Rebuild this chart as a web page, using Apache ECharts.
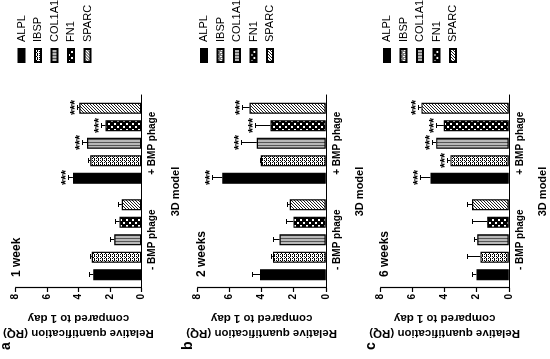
<!DOCTYPE html>
<html>
<head>
<meta charset="utf-8">
<script src="https://cdn.jsdelivr.net/npm/echarts/dist/echarts.min.js"></script>
<style>
html,body{margin:0;padding:0;background:#fff;overflow:hidden;width:550px;height:359px;}
#rot{position:absolute;left:0;top:0;width:359px;height:550px;transform-origin:0 0;transform:translate(0,359px) rotate(-90deg);background:#fff;}
#chart{width:359px;height:550px;}
</style>
</head>
<body>
<div id="rot"><div id="chart"></div></div>
<script>
// ---------- data ----------
const genes = ['ALPL', 'IBSP', 'COL1A1', 'FN1', 'SPARC'];
const groups = ['- BMP phage', '+ BMP phage'];
const panelLetters = ['a', 'b', 'c'];
const panelTitles = ['1 week', '2 weeks', '6 weeks'];
const axisName = 'Relative quantification (RQ)\ncompared to 1 day';
const catAxisName = '3D model';
const valueMin = 0, valueMax = 8, valueStep = 2;

// 1 week
const week1Minus    = [3.05, 3.15, 1.72, 1.38, 1.24];
const week1MinusErr = [0.25, 0.10, 0.28, 0.28, 0.22];
const week1Plus     = [4.35, 3.25, 3.45, 2.27, 3.95];
const week1PlusErr  = [0.30, 0.12, 0.30, 0.30, 0.15];
const week1Stars    = ['***', '', '***', '***', '***'];
// 2 weeks
const week2Minus    = [4.10, 3.30, 2.88, 2.02, 2.25];
const week2MinusErr = [0.48, 0.10, 0.40, 0.45, 0.17];
const week2Plus     = [6.45, 4.05, 4.30, 3.45, 4.75];
const week2PlusErr  = [0.63, 0.08, 1.00, 0.95, 0.45];
const week2Stars    = ['***', '', '***', '***', '***'];
// 6 weeks
const week6Minus    = [2.02, 1.77, 1.97, 1.35, 2.29];
const week6MinusErr = [0.30, 0.83, 0.20, 0.93, 0.30];
const week6Plus     = [4.89, 3.64, 4.53, 4.05, 5.45];
const week6PlusErr  = [0.66, 0.20, 0.25, 0.48, 0.23];
const week6Stars    = ['***', '***', '***', '***', '***'];

const panels = [
  [week1Minus, week1MinusErr, week1Plus, week1PlusErr, week1Stars],
  [week2Minus, week2MinusErr, week2Plus, week2PlusErr, week2Stars],
  [week6Minus, week6MinusErr, week6Plus, week6PlusErr, week6Stars]
];

// ---------- style ----------
const FONT = '"Liberation Sans", Arial, Helvetica, sans-serif';
const BAR_W = 11, BAR_GAP = 6.5 / 11, BAR_PITCH = 17.5, CAP = 5, STAR_DY = 4;
const gridTops = [13, 197.5, 380.5];
const gridH = 128.3;
const panelOffsets = [0, 182.5, 365.5];

function makePattern(w, h, draw) {
  const c = document.createElement('canvas');
  c.width = w; c.height = h;
  const ctx = c.getContext('2d');
  draw(ctx);
  return { image: c, repeat: 'repeat' };
}
const fills = [
  '#000',
  makePattern(4, 4, ctx => {
    ctx.fillStyle = '#fff'; ctx.fillRect(0, 0, 4, 4);
    ctx.fillStyle = '#000';
    ctx.fillRect(0, 0, 1, 1); ctx.fillRect(2, 0, 1, 1);
    ctx.fillRect(1, 1, 1, 1); ctx.fillRect(3, 2, 1, 1);
    ctx.fillRect(0, 2, 1, 1); ctx.fillRect(2, 2, 1, 1);
  }),
  makePattern(3, 1, ctx => {
    ctx.fillStyle = '#b8b8b8'; ctx.fillRect(0, 0, 3, 1);
    ctx.fillStyle = '#555'; ctx.fillRect(0, 0, 1, 1);
  }),
  makePattern(6, 6, ctx => {
    ctx.fillStyle = '#000'; ctx.fillRect(0, 0, 6, 6);
    ctx.fillStyle = '#fff'; ctx.fillRect(0, 0, 2, 2); ctx.fillRect(3, 3, 2, 2);
  }),
  makePattern(3, 3, ctx => {
    ctx.fillStyle = '#fff'; ctx.fillRect(0, 0, 3, 3);
    ctx.fillStyle = '#222'; ctx.fillRect(2, 0, 1, 1); ctx.fillRect(1, 1, 1, 1); ctx.fillRect(0, 2, 1, 1);
  })
];

const grid = [], xAxis = [], yAxis = [], series = [], legend = [], title = [];

panels.forEach((pd, p) => {
  const [minus, minusErr, plus, plusErr, stars] = pd;
  grid.push({ left: 71, top: gridTops[p], width: 193, height: gridH });
  xAxis.push({
    type: 'category', gridIndex: p, data: groups,
    axisLine: { lineStyle: { color: '#000', width: 1.2 } },
    axisTick: { alignWithLabel: true, length: 4, lineStyle: { color: '#000', width: 1.2 } },
    axisLabel: { color: '#000', fontWeight: 'bold', fontSize: 10, fontFamily: FONT, margin: 6 },
    name: catAxisName, nameLocation: 'middle', nameGap: 29,
    nameTextStyle: { color: '#000', fontWeight: 'bold', fontSize: 11, fontFamily: FONT }
  });
  yAxis.push({
    type: 'value', gridIndex: p, min: valueMin, max: valueMax, interval: valueStep,
    axisLine: { show: true, lineStyle: { color: '#000', width: 1.2 } },
    axisTick: { show: true, length: 4, lineStyle: { color: '#000', width: 1.2 } },
    axisLabel: { color: '#000', fontWeight: 'bold', fontSize: 10, fontFamily: FONT, margin: 6 },
    splitLine: { show: false },
    name: axisName, nameLocation: 'middle', nameRotate: 90, nameGap: 13,
    nameTextStyle: { color: '#000', fontWeight: 'bold', fontSize: 11.5, lineHeight: 15, fontFamily: FONT }
  });
  genes.forEach((g, gi) => {
    series.push({
      type: 'bar', name: g, xAxisIndex: p, yAxisIndex: p,
      data: [minus[gi], plus[gi]],
      barWidth: BAR_W, barGap: (BAR_GAP * 100).toFixed(1) + '%',
      itemStyle: { color: fills[gi], borderColor: '#000', borderWidth: 1.2 },
      silent: true
    });
  });
  const eData = [], eStars = [];
  genes.forEach((g, gi) => {
    eData.push([0, minus[gi], minusErr[gi], gi]); eStars.push('');
    eData.push([1, plus[gi], plusErr[gi], gi]); eStars.push(stars[gi]);
  });
  series.push({
    type: 'custom', xAxisIndex: p, yAxisIndex: p, z: 5, silent: true,
    data: eData, encode: { x: 0, y: 1 },
    renderItem: (params, api) => {
      const cat = api.value(0), v = api.value(1), e = api.value(2), gi = api.value(3);
      const b = api.coord([cat, v]);
      const t = api.coord([cat, v + e]);
      const x = Math.round(b[0] + (gi - (genes.length - 1) / 2) * BAR_PITCH) + 0.5;
      const ty = Math.round(t[1]) + 0.5;
      const children = [
        { type: 'line', shape: { x1: x, y1: b[1], x2: x, y2: ty }, style: { stroke: '#000', lineWidth: 1 } },
        { type: 'line', shape: { x1: x - CAP / 2, y1: ty, x2: x + CAP / 2, y2: ty }, style: { stroke: '#000', lineWidth: 1 } }
      ];
      const s = eStars[params.dataIndex];
      if (s) children.push({ type: 'text', x: x, y: ty + STAR_DY,
        style: { text: s, align: 'center', verticalAlign: 'bottom', font: 'bold 13px ' + FONT, fill: '#000' } });
      return { type: 'group', children };
    }
  });
  legend.push({
    orient: 'vertical', left: 296, top: panelOffsets[p] + 16, padding: 0,
    itemWidth: 13, itemHeight: 6, itemGap: 5.5, icon: 'rect', selectedMode: false,
    data: genes,
    textStyle: { color: '#000', fontSize: 11, fontFamily: FONT, padding: [0, 0, 0, 2] }
  });
  title.push({ text: panelLetters[p], left: 9, top: panelOffsets[p] - 1, padding: 0,
    textStyle: { color: '#000', fontSize: 14, fontWeight: 'bold', fontFamily: FONT } });
  title.push({ text: panelTitles[p], left: 82, top: gridTops[p] - 2, padding: 0,
    textStyle: { color: '#000', fontSize: 12, fontWeight: 'bold', fontFamily: FONT } });
});

const chart = echarts.init(document.getElementById('chart'), null, { renderer: 'canvas', width: 359, height: 550 });
chart.setOption({ animation: false, backgroundColor: '#fff', grid, xAxis, yAxis, series, legend, title });
</script>
</body>
</html>
